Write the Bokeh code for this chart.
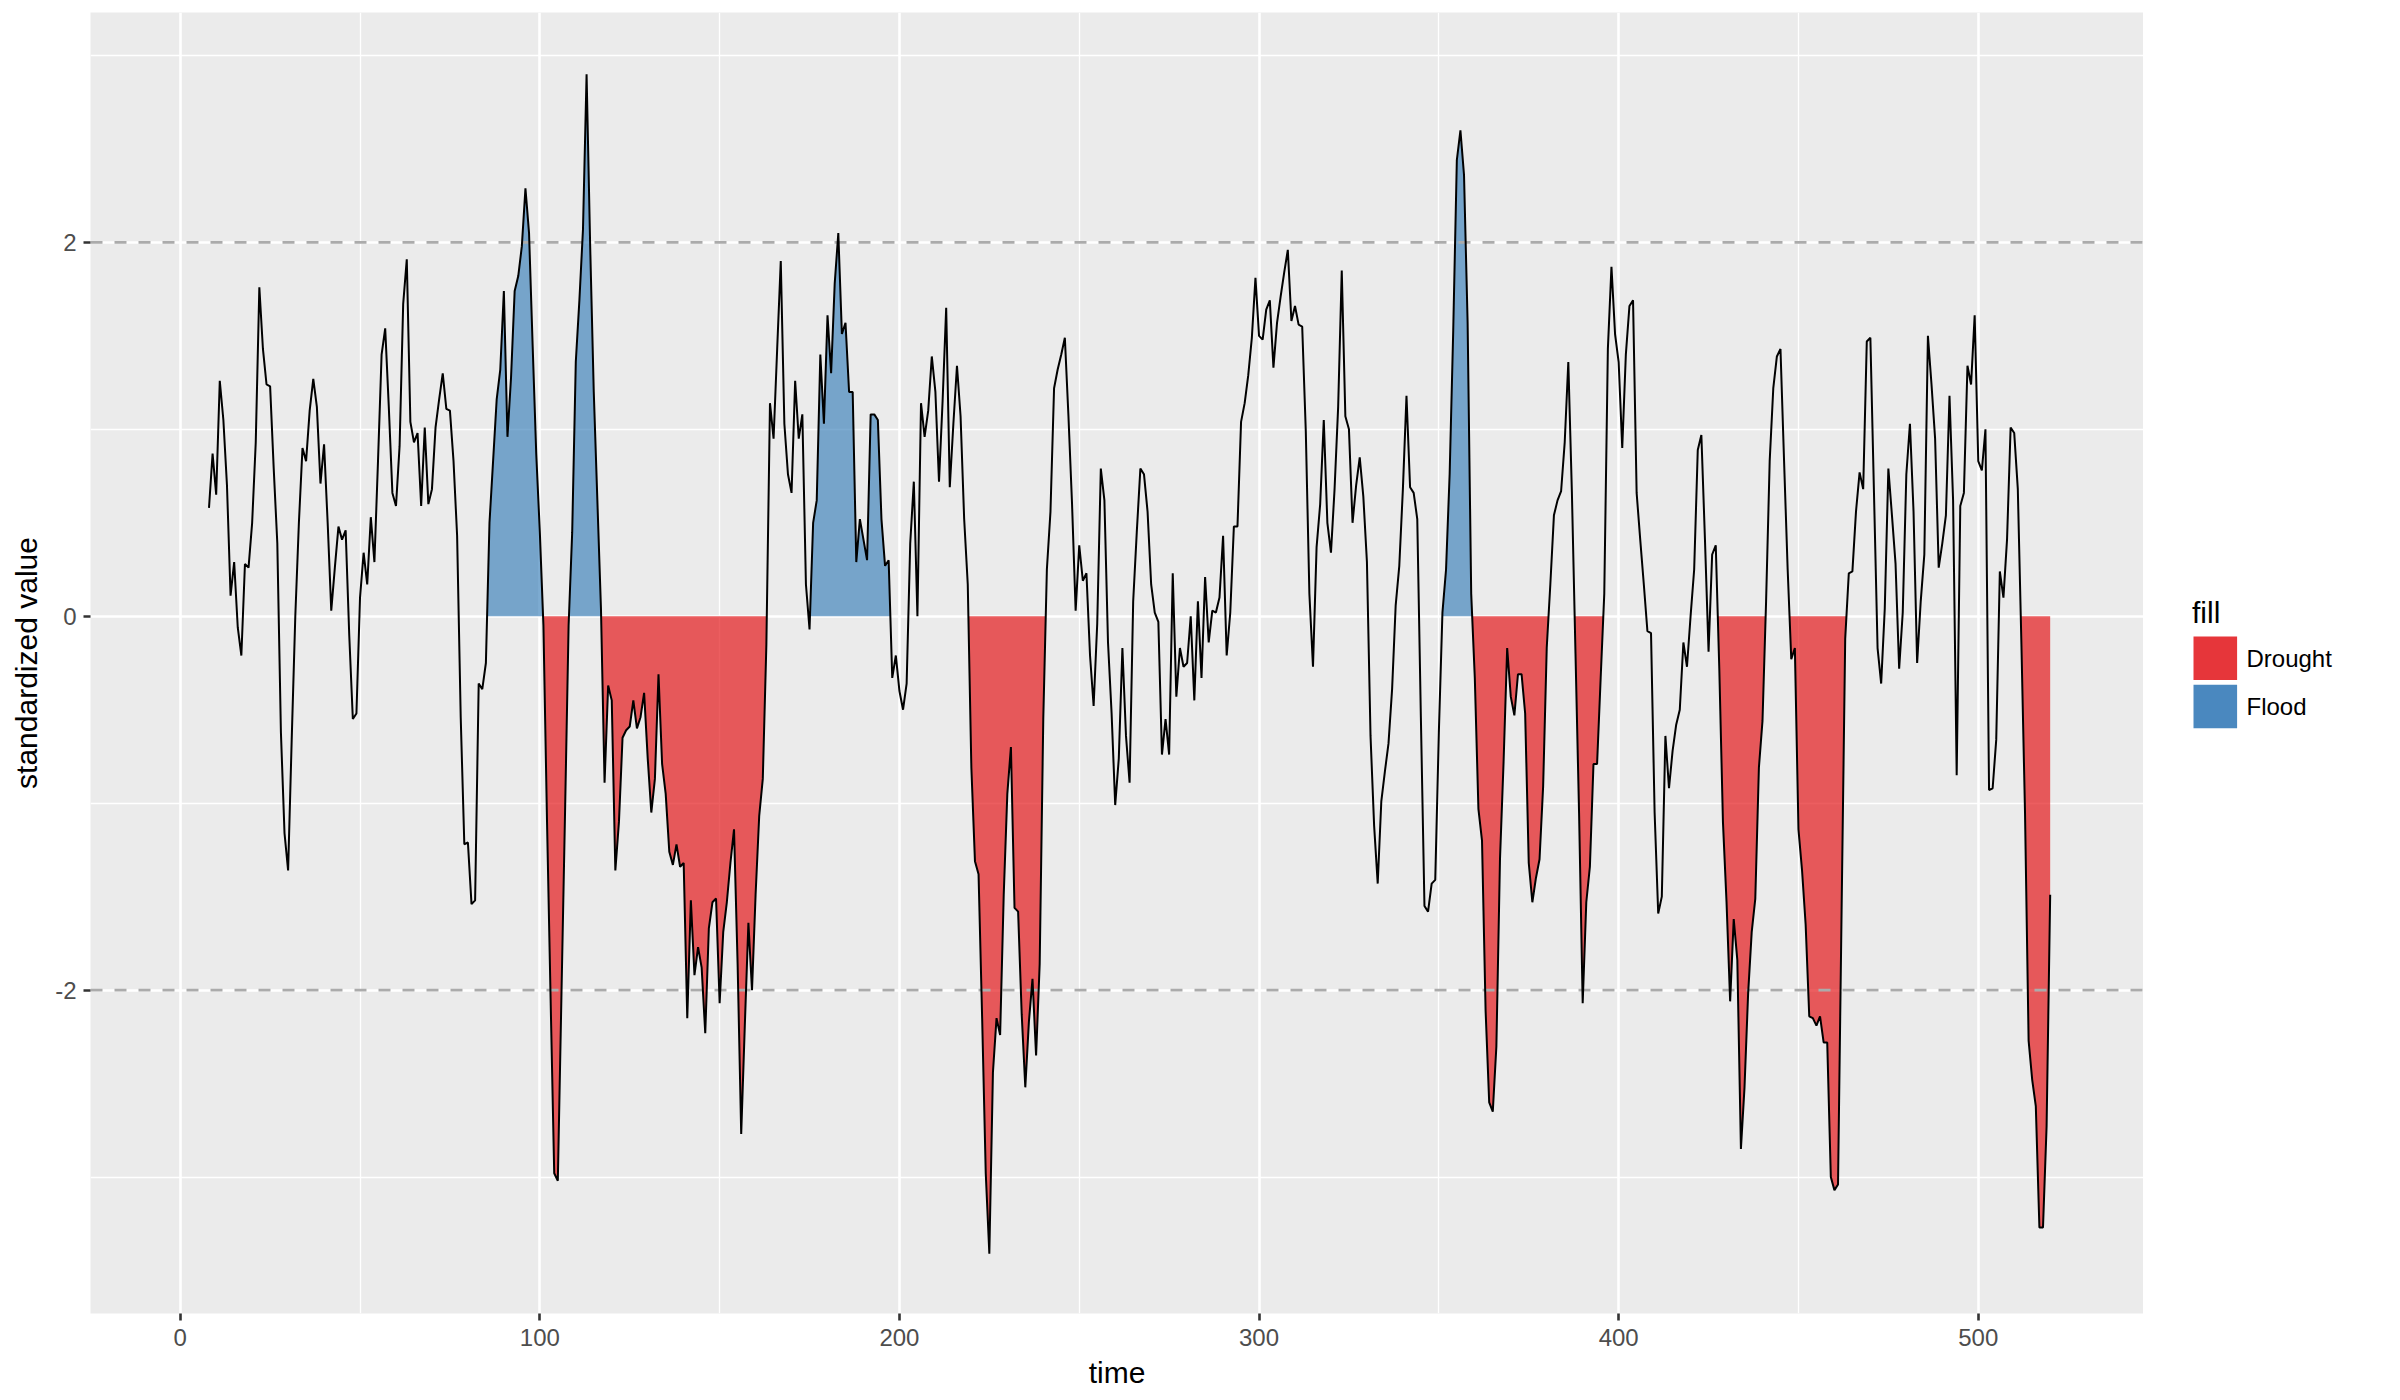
from bokeh.plotting import figure
from bokeh.models import Range1d, FixedTicker
from bokeh.core.properties import value as bk_value
from bokeh.layouts import row
from bokeh.embed import file_html
from bokeh.resources import INLINE

# ---------------- data ----------------
time = list(range(8, 521))
value = [
    0.58, 0.87, 0.65, 1.26, 1.05, 0.70, 0.11, 0.29, -0.06, -0.21,      # 8-17
    0.28, 0.26, 0.50, 0.93, 1.76, 1.43, 1.24, 1.23, 0.79, 0.39,        # 18-27
    -0.62, -1.16, -1.36, -0.66, 0.00, 0.50, 0.90, 0.83, 1.10, 1.27,    # 28-37
    1.12, 0.71, 0.92, 0.50, 0.03, 0.26, 0.48, 0.41, 0.46, -0.10,       # 38-47
    -0.55, -0.52, 0.10, 0.34, 0.17, 0.53, 0.29, 0.83, 1.40, 1.54,      # 48-57
    1.12, 0.66, 0.59, 0.91, 1.67, 1.91, 1.04, 0.93, 0.98, 0.59,        # 58-67
    1.01, 0.60, 0.68, 1.01, 1.16, 1.30, 1.11, 1.10, 0.83, 0.43,        # 68-77
    -0.54, -1.22, -1.21, -1.54, -1.52, -0.36, -0.39, -0.25, 0.50, 0.83,  # 78-87
    1.16, 1.32, 1.74, 0.96, 1.28, 1.74, 1.82, 1.98, 2.29, 2.05,        # 88-97
    1.45, 0.87, 0.45, -0.05, -1.10, -2.05, -2.98, -3.02, -2.04, -1.06,  # 98-107
    -0.05, 0.45, 1.36, 1.69, 2.07, 2.90, 1.98, 1.20, 0.62, 0.04,       # 108-117
    -0.89, -0.37, -0.45, -1.36, -1.10, -0.65, -0.61, -0.59, -0.45, -0.60,  # 118-127
    -0.54, -0.41, -0.76, -1.05, -0.87, -0.31, -0.79, -0.95, -1.26, -1.33,  # 128-137
    -1.22, -1.34, -1.32, -2.15, -1.52, -1.92, -1.77, -1.88, -2.23, -1.67,  # 138-147
    -1.53, -1.51, -2.07, -1.69, -1.53, -1.32, -1.14, -1.86, -2.77, -2.19,  # 148-157
    -1.64, -2.00, -1.49, -1.07, -0.87, -0.15, 1.14, 0.95, 1.43, 1.90,  # 158-167
    1.03, 0.76, 0.66, 1.26, 0.95, 1.08, 0.17, -0.07, 0.50, 0.62,       # 168-177
    1.40, 1.03, 1.61, 1.30, 1.78, 2.05, 1.51, 1.57, 1.20, 1.20,        # 178-187
    0.29, 0.52, 0.41, 0.30, 1.08, 1.08, 1.05, 0.52, 0.27, 0.30,        # 188-197
    -0.33, -0.21, -0.40, -0.50, -0.36, 0.39, 0.72, 0.00, 1.14, 0.96,   # 198-207
    1.10, 1.39, 1.20, 0.72, 1.15, 1.65, 0.69, 1.03, 1.34, 1.07,        # 208-217
    0.52, 0.17, -0.81, -1.31, -1.38, -2.15, -2.98, -3.41, -2.44, -2.15,  # 218-227
    -2.24, -1.49, -0.95, -0.70, -1.56, -1.58, -2.13, -2.52, -2.17, -1.94,  # 228-237
    -2.35, -1.86, -0.55, 0.25, 0.56, 1.22, 1.32, 1.40, 1.49, 1.07,     # 238-247
    0.60, 0.03, 0.38, 0.19, 0.23, -0.21, -0.48, -0.04, 0.79, 0.62,     # 248-257
    -0.14, -0.52, -1.01, -0.76, -0.17, -0.64, -0.89, 0.08, 0.45, 0.79,  # 258-267
    0.76, 0.56, 0.17, 0.02, -0.03, -0.74, -0.55, -0.74, 0.23, -0.43,   # 268-277
    -0.17, -0.27, -0.25, 0.00, -0.45, 0.08, -0.33, 0.21, -0.14, 0.03,  # 278-287
    0.02, 0.10, 0.43, -0.21, 0.02, 0.48, 0.48, 1.04, 1.14, 1.29,       # 288-297
    1.49, 1.81, 1.50, 1.48, 1.64, 1.69, 1.33, 1.57, 1.71, 1.84,        # 298-307
    1.96, 1.58, 1.66, 1.56, 1.55, 0.99, 0.12, -0.27, 0.37, 0.60,       # 308-317
    1.05, 0.50, 0.34, 0.68, 1.12, 1.85, 1.07, 1.00, 0.50, 0.70,        # 318-327
    0.85, 0.64, 0.29, -0.64, -1.12, -1.43, -0.99, -0.83, -0.68, -0.39,  # 328-337
    0.06, 0.27, 0.68, 1.18, 0.69, 0.66, 0.52, -0.54, -1.55, -1.58,     # 338-347
    -1.43, -1.41, -0.62, 0.02, 0.25, 0.76, 1.53, 2.44, 2.60, 2.36,     # 348-357
    1.57, 0.12, -0.33, -1.03, -1.20, -2.11, -2.60, -2.65, -2.30, -1.30,  # 358-367
    -0.78, -0.17, -0.43, -0.53, -0.31, -0.31, -0.52, -1.32, -1.53, -1.40,  # 368-377
    -1.30, -0.91, -0.17, 0.17, 0.54, 0.62, 0.67, 0.93, 1.36, 0.66,     # 378-387
    -0.20, -1.06, -2.07, -1.53, -1.34, -0.79, -0.79, -0.33, 0.12, 1.43,  # 388-397
    1.87, 1.51, 1.36, 0.90, 1.40, 1.66, 1.69, 0.66, 0.41, 0.17,        # 398-407
    -0.08, -0.09, -1.05, -1.59, -1.50, -0.64, -0.92, -0.72, -0.58, -0.50,  # 408-417
    -0.14, -0.27, 0.00, 0.25, 0.89, 0.97, 0.41, -0.19, 0.33, 0.38,     # 418-427
    -0.29, -1.10, -1.53, -2.06, -1.62, -1.84, -2.85, -2.52, -2.02, -1.69,  # 428-437
    -1.51, -0.81, -0.56, 0.08, 0.83, 1.22, 1.39, 1.43, 0.83, 0.25,     # 438-447
    -0.23, -0.17, -1.14, -1.36, -1.65, -2.14, -2.15, -2.19, -2.14, -2.28,  # 448-457
    -2.28, -3.00, -3.07, -3.04, -1.57, -0.12, 0.23, 0.24, 0.56, 0.77,  # 458-467
    0.68, 1.47, 1.49, 0.66, -0.17, -0.36, 0.04, 0.79, 0.54, 0.28,      # 468-477
    -0.28, 0.02, 0.76, 1.03, 0.56, -0.25, 0.08, 0.33, 1.50, 1.24,      # 478-487
    0.95, 0.26, 0.39, 0.54, 1.18, 0.62, -0.85, 0.59, 0.66, 1.34,       # 488-497
    1.24, 1.61, 0.83, 0.78, 1.00, -0.93, -0.92, -0.66, 0.24, 0.10,     # 498-507
    0.41, 1.01, 0.98, 0.68, -0.15, -1.05, -2.27, -2.48, -2.62, -3.27,  # 508-517
    -3.27, -2.73, -1.49,                                               # 518-520
]
assert len(value) == len(time)

# event periods (first and last time step of each run)
drought_events = [(101, 108), (118, 163), (220, 240), (360, 380),
                  (388, 395), (428, 440), (448, 463), (512, 520)]
flood_events = [(86, 100), (109, 117), (176, 197), (351, 359)]

thresholds = [-2, 2]
x_ticks = [0, 100, 200, 300, 400, 500]
x_minor = [50, 150, 250, 350, 450]
y_ticks = [-2, 0, 2]
y_minor = [-3, -1, 1, 3]
y_labels = {-2: "-2", 0: "0", 2: "2"}
legend_title = "fill"
legend_labels = ["Drought", "Flood"]
legend_colors = ["#E6363A", "#4A88BF"]

FONT = "Liberation Sans"
X0, X1 = -24.95, 545.95
Y0, Y1 = -3.73, 3.23
FRAME_TOP, FRAME_BOTTOM = 12, 1313


def event_polygon(s, e):
    i0 = time.index(s)
    i1 = time.index(e)
    xs, ys = [], []
    if i0 > 0:
        a, b = value[i0 - 1], value[i0]
        xs.append(time[i0 - 1] + (time[i0] - time[i0 - 1]) * (0 - a) / (b - a))
    else:
        xs.append(time[i0])
    ys.append(0)
    xs += time[i0:i1 + 1]
    ys += value[i0:i1 + 1]
    if i1 < len(time) - 1:
        a, b = value[i1], value[i1 + 1]
        xs.append(time[i1] + (time[i1 + 1] - time[i1]) * (0 - a) / (b - a))
    else:
        xs.append(time[i1])
    ys.append(0)
    return xs, ys


# ---------------- main panel ----------------
p = figure(width=2143, height=1400,
           x_range=Range1d(X0, X1), y_range=Range1d(Y0, Y1),
           output_backend="svg", toolbar_location=None,
           min_border_left=90, min_border_right=0,
           min_border_top=FRAME_TOP, min_border_bottom=1400 - FRAME_BOTTOM)
p.background_fill_color = "#EBEBEB"
p.border_fill_color = "white"
p.outline_line_color = None

p.xaxis.ticker = FixedTicker(ticks=x_ticks, minor_ticks=x_minor)
p.yaxis.ticker = FixedTicker(ticks=y_ticks, minor_ticks=y_minor)
p.yaxis.major_label_overrides = y_labels

for g in (p.xgrid[0], p.ygrid[0]):
    g.grid_line_color = "white"
    g.grid_line_width = 2.6
    g.minor_grid_line_color = "white"
    g.minor_grid_line_width = 1.3

for ax in (p.xaxis[0], p.yaxis[0]):
    ax.axis_line_color = None
    ax.major_tick_line_color = "#333333"
    ax.major_tick_line_width = 2.6
    ax.major_tick_out = 7
    ax.major_tick_in = 0
    ax.minor_tick_line_color = None
    ax.major_label_text_font = FONT
    ax.major_label_text_font_size = "24px"
    ax.major_label_text_color = "#4D4D4D"
    ax.axis_label_text_font = FONT
    ax.axis_label_text_font_size = "30px"
    ax.axis_label_text_font_style = "normal"
    ax.axis_label_text_color = "black"

p.xaxis.axis_label = "time"
p.yaxis.axis_label = "standardized value"
p.xaxis.major_label_standoff = 8
p.xaxis.axis_label_standoff = 7
p.yaxis.major_label_standoff = 7
p.yaxis.axis_label_standoff = 9

# event fills
dx, dy = zip(*[event_polygon(s, e) for s, e in drought_events])
fx, fy = zip(*[event_polygon(s, e) for s, e in flood_events])
p.patches(xs=list(dx), ys=list(dy), fill_color="#E41A1C", fill_alpha=0.7, line_color=None)
p.patches(xs=list(fx), ys=list(fy), fill_color="#377EB8", fill_alpha=0.65, line_color=None)

# threshold lines
for th in thresholds:
    p.line([X0, X1], [th, th], line_color="#ABABAB", line_width=2.6, line_dash="12 12")

# series
p.line(time, value, line_color="black", line_width=2)

# ---------------- legend panel (right of the plot) ----------------
# Its frame is aligned with the main frame by the row layout, so the y range
# is set to the page pixel rows of that frame (y grows downwards).
lf = figure(width=257, height=1400, x_range=Range1d(0, 257),
            y_range=Range1d(FRAME_BOTTOM, FRAME_TOP),
            output_backend="svg", toolbar_location=None,
            x_axis_location=None, y_axis_location=None,
            min_border_left=0, min_border_right=0,
            min_border_top=FRAME_TOP, min_border_bottom=1400 - FRAME_BOTTOM)
lf.grid.visible = False
lf.outline_line_color = None
lf.background_fill_color = "white"
lf.border_fill_color = "white"

key_left, key_size, key_gap, key_top = 50, 43.6, 4.6, 636
key_tops = [key_top + i * (key_size + key_gap) for i in range(len(legend_labels))]
lf.quad(left=[key_left] * len(key_tops), right=[key_left + key_size] * len(key_tops),
        top=key_tops, bottom=[t + key_size for t in key_tops],
        fill_color=legend_colors, line_color=None)
lf.text(x=[48.5], y=[611.5], text=[legend_title], text_baseline="alphabetic",
        text_align="left", text_font=bk_value(FONT), text_font_size="30px",
        text_color="black")
lf.text(x=[103] * len(key_tops), y=[t + 22 for t in key_tops], text=legend_labels,
        text_baseline="alphabetic", text_align="left", text_font=bk_value(FONT),
        text_font_size="24px", text_color="black")

layout = row(p, lf, spacing=0)
open("out.html", "w").write(file_html(layout, INLINE))
